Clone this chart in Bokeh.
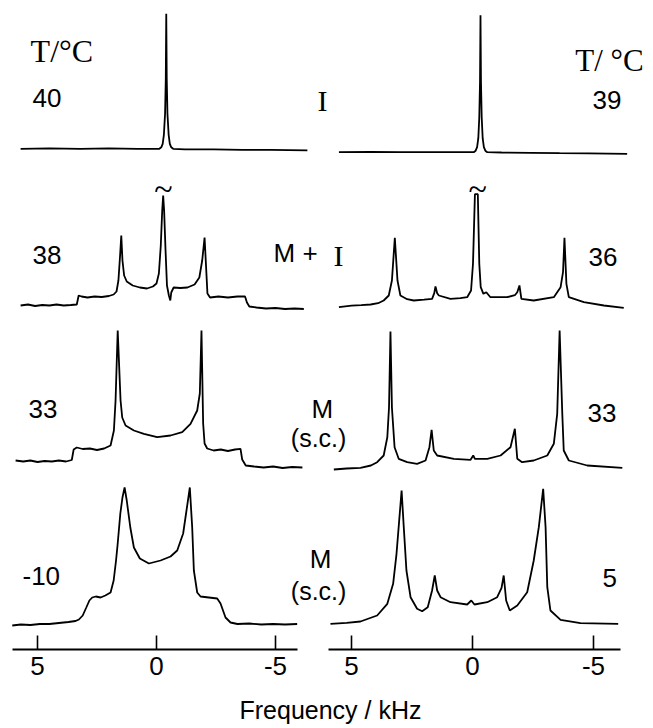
from bokeh.plotting import figure
from bokeh.models import Range1d, LinearAxis, FixedTicker, Label, ColumnDataSource
from bokeh.embed import file_html
from bokeh.resources import INLINE

# ---------------- data (frequency in kHz, intensity in arbitrary units) ----------------
tick_values = [5, 0, -5]
tick_labels = ["5", "0", "-5"]
axis_title = "Frequency / kHz"
left_temps = ["40", "38", "33", "-10"]
right_temps = ["39", "36", "33", "5"]

# left column
L40_f = [5.71, 4.5, 3.2, 2.0, 0.8, -0.12, -0.2, -0.26, -0.31, -0.36, -0.39, -0.41, -0.43, -0.46, -0.51,
         -0.56, -0.62, -0.7, -1.2, -2.4, -3.6, -4.8, -6.34]
L40_h = [0, 0.5, 0, 0.5, 0, 0, 1.5, 5, 14, 35, 70, 135, 70, 35, 14, 5, 1.5, 0, -0.5, -0.5, -1, -1, -1.5]

L38_f = [5.71, 5.4, 5.1, 4.8, 4.5, 4.2, 3.9, 3.6, 3.35, 3.27, 3.15, 2.9, 2.6, 2.3, 2.0, 1.8, 1.68, 1.6,
         1.53, 1.48, 1.43, 1.36, 1.25, 1.0, 0.7, 0.4, 0.15, 0.0, -0.1, -0.18, -0.24, -0.28, -0.32, -0.38,
         -0.44, -0.52, -0.58, -0.62, -0.72, -1.0, -1.3, -1.6, -1.8, -1.92, -2.02, -2.08, -2.14, -2.25,
         -2.6, -3.0, -3.4, -3.72, -3.8, -3.9, -4.2, -4.6, -5.0, -5.4, -5.8, -6.19]
L38_h = [0, 1, -0.5, 0.5, 0, 1, 0, 0.5, 1, 10, 9, 8, 9, 8.5, 9.5, 11, 14, 25,
         50, 70, 45, 30, 24, 20, 18, 17, 19, 22, 32, 60, 95, 110, 95, 55,
         20, 10, 5, 13, 18, 17.5, 18, 21, 28, 45, 68, 40, 12, 8,
         9, 8, 9, 9, 3, -1, -2, -3, -2.5, -3.5, -3, -3.5]

L33_f = [5.92, 5.6, 5.3, 5.0, 4.7, 4.4, 4.1, 3.8, 3.56, 3.48, 3.35, 3.1, 2.8, 2.5, 2.2, 1.93, 1.79,
         1.72, 1.63, 1.51, 1.44, 1.30, 0.95, 0.53, -0.03, -0.59, -1.08, -1.43, -1.71, -1.82, -1.89,
         -1.96, -2.02, -2.13, -2.4, -2.7, -3.0, -3.3, -3.53, -3.6, -3.75, -4.1, -4.5, -4.9, -5.3,
         -5.7, -6.13]
L33_h = [1, 0, 1, -0.5, 0.5, 0, 1, 0, 1.5, 12, 14, 12.5, 13, 11.5, 13, 16, 31,
         61, 131, 61, 44, 36, 31, 27.7, 24.3, 26, 29.3, 37.7, 51, 68, 131,
         38, 18, 13, 11, 12, 10.5, 12, 12.7, 2, -4, -5, -6, -5, -6.5,
         -5.5, -6]

L10_f = [6.06, 5.7, 5.3, 4.9, 4.5, 4.1, 3.7, 3.4, 3.26, 3.1, 2.95, 2.82, 2.7, 2.55, 2.35, 2.15, 1.93,
         1.80, 1.70, 1.63, 1.52, 1.43, 1.34, 1.25, 1.1, 0.95, 0.7, 0.32, -0.17, -0.59, -0.87, -1.12,
         -1.26, -1.40, -1.50, -1.57, -1.71, -1.85, -2.2, -2.55, -2.69, -2.90, -3.11, -3.4, -3.9, -4.4,
         -4.9, -5.4, -5.91]
L10_h = [0, 1, 0.5, 1.5, 1.5, 2.5, 3.5, 4.5, 6, 10, 18, 25, 28, 29, 28, 30, 33,
         45, 65, 82, 112, 128, 138, 125, 98, 78, 67, 62, 65, 69, 75, 92,
         115, 138, 98, 55, 33, 29, 28, 27, 22, 8, 3, 1.5, 2, 1,
         1.5, 1, 1.5]

# right column
R39_f = [5.52, 4.2, 3.0, 1.8, 0.6, -0.05, -0.13, -0.19, -0.24, -0.28, -0.31, -0.33, -0.35, -0.38, -0.42,
         -0.47, -0.53, -0.61, -1.2, -2.4, -3.6, -4.8, -6.39]
R39_h = [0, 0.3, 0, 0, 0, 0, 1.5, 5, 14, 35, 70, 137, 70, 35, 14, 5, 1.5, 0, -0.3, -0.6, -1, -1.2, -1.6]

R36_f = [5.52, 5.0, 4.6, 4.21, 3.9, 3.67, 3.46, 3.33, 3.21, 3.10, 2.98, 2.7, 2.43, 2.0, 1.67, 1.58, 1.53,
         1.46, 1.39, 0.91, 0.5, 0.22, 0.06, -0.02, -0.10, -0.22, -0.28, -0.34, -0.45, -0.57, -0.74,
         -1.43, -1.75, -1.85, -1.94, -2.02, -2.53, -3.36, -3.64, -3.74, -3.80, -3.88, -3.98, -4.60,
         -5.43, -6.25]
R36_h = [0, 1.5, 2, 2.7, 4, 6.7, 11.7, 26.7, 69.4, 26.7, 11.7, 8, 6.7, 7.5, 8.4, 14, 20.7,
         14, 11.7, 8.4, 9, 10, 16.7, 43.4, 113, 113, 43.4, 20, 13.4, 15, 10,
         10, 12, 15, 21.7, 8.4, 6.7, 10, 20, 35, 69.4, 23.4, 10, 5,
         1.7, -0.6]

R33_f = [5.73, 5.2, 4.63, 4.2, 3.94, 3.67, 3.52, 3.45, 3.39, 3.33, 3.22, 3.05, 2.70, 2.29, 1.94, 1.78,
         1.69, 1.60, 1.46, 0.77, 0.08, -0.03, -0.1, -0.61, -1.16, -1.57, -1.75, -1.85, -2.05, -2.53,
         -3.09, -3.36, -3.50, -3.60, -3.71, -3.77, -3.98, -4.74, -6.19]
R33_h = [0, 1, 1.7, 4, 7.3, 14, 32.3, 62, 138, 62, 22.3, 10.7, 7.3, 5.7, 9, 22.3,
         39.7, 19, 14, 10.7, 9.7, 14, 10.7, 10.7, 14, 22.3, 40.7, 10.7, 7.3, 9,
         14, 25.7, 55.7, 139, 55.7, 19, 9, 4, 1.7]

R5_f = [5.87, 5.2, 4.63, 3.94, 3.52, 3.28, 3.14, 3.03, 2.93, 2.84, 2.73, 2.56, 2.29, 2.08, 1.85, 1.67,
        1.56, 1.46, 1.32, 0.91, 0.22, 0.05, -0.08, -0.61, -1.02, -1.20, -1.29, -1.39, -1.54, -1.85,
        -2.26, -2.53, -2.74, -2.92, -3.02, -3.09, -3.22, -3.64, -4.46, -6.02]
R5_h = [0, 1, 2.3, 8.3, 20, 40, 70, 103, 133.3, 96.6, 53.3, 26.6, 15, 12.6, 16.6, 33.3,
        48.3, 33.3, 26.6, 21.6, 19.3, 23.3, 19.3, 21.6, 26.6, 36, 48.3, 23.3, 13.3, 18.3,
        31.6, 63.3, 96.6, 135, 96.6, 36.6, 13.3, 4, 0.6, 0]

# ---------------- layout ----------------
W, H = 653, 728
p = figure(width=W, height=H, x_range=Range1d(6.5546, -20.882), y_range=Range1d(-8, 720),
           toolbar_location=None, output_backend="svg", min_border=0,
           x_axis_location=None, y_axis_location=None)
p.extra_x_ranges = {"right": Range1d(19.504, -7.479)}
p.outline_line_color = None
p.background_fill_color = "white"
p.border_fill_color = "white"
for g in p.grid:
    g.visible = False

left_spectra = [(L40_f, L40_h, 571.7), (L38_f, L38_h, 415), (L33_f, L33_h, 259), (L10_f, L10_h, 95)]
right_spectra = [(R39_f, R39_h, 568.3), (R36_f, R36_h, 413.3), (R33_f, R33_h, 251), (R5_f, R5_h, 96.7)]

for f, h, base in left_spectra:
    src = ColumnDataSource(dict(x=f, y=[v + base for v in h]))
    p.line("x", "y", source=src, line_color="black", line_width=1.8)
for f, h, base in right_spectra:
    src = ColumnDataSource(dict(x=f, y=[v + base for v in h]))
    p.line("x", "y", source=src, line_color="black", line_width=1.8, x_range_name="right")

def make_axis(rng, bounds):
    ax = LinearAxis(ticker=FixedTicker(ticks=tick_values), bounds=bounds, fixed_location=71)
    if rng:
        ax.x_range_name = rng
    ax.major_label_overrides = dict(zip(tick_values, tick_labels))
    ax.axis_line_width = 2
    ax.axis_line_color = "black"
    ax.major_tick_line_width = 1.6
    ax.major_tick_line_color = "black"
    ax.major_tick_in = 14
    ax.major_tick_out = 0
    ax.minor_tick_in = 0
    ax.minor_tick_out = 0
    ax.major_label_standoff = 7
    ax.major_label_text_font = "Liberation Sans"
    ax.major_label_text_font_size = "26px"
    ax.major_label_text_color = "black"
    return ax

p.add_layout(make_axis(None, (-5.92, 6.05)), "below")
p.add_layout(make_axis("right", (-6.12, 5.95)), "below")

SANS = "Liberation Sans"
SERIF = "Liberation Serif"

def lab(text, x, y, rng=None, font=SANS, size="26px", align="left"):
    kw = dict(x=x, y=y, text=text, text_font=font, text_font_size=size, text_align=align,
              text_baseline="middle", text_color="black")
    if rng:
        kw["x_range_name"] = rng
    p.add_layout(Label(**kw))

# temperature headers
lab("T/°C", 5.29, 670, font=SERIF, size="32px")
lab("T/ °C", -7.07, 660, rng="right", font=SERIF, size="31px", align="right")

for t, x, y in zip(left_temps, [5.21, 5.21, 5.38, 5.63], [623, 466, 312, 145]):
    lab(t, x, y)
for t, x, y in zip(right_temps, [-4.96, -4.79, -4.75, -5.37], [621, 464, 308, 143]):
    lab(t, x, y, rng="right")

# phase labels
lab("I", -6.97, 620, font=SERIF, size="30px", align="center")
lab("M +", -4.92, 468)
lab("I", 5.54, 465, rng="right", font=SERIF, size="30px", align="center")
lab("M", -6.97, 312, align="center")
lab("(s.c.)", -6.81, 283, size="25px", align="center")
lab("M", -6.89, 162, align="center")
lab("(s.c.)", -6.81, 130, size="25px", align="center")

# break marks above truncated central lines
lab("~", -0.29, 532, font=SERIF, size="34px", align="center")
lab("~", -0.21, 532, rng="right", font=SERIF, size="34px", align="center")

# axis title
lab(axis_title, -7.31, 11, size="25px", align="center")

open("out.html", "w").write(file_html(p, INLINE))
